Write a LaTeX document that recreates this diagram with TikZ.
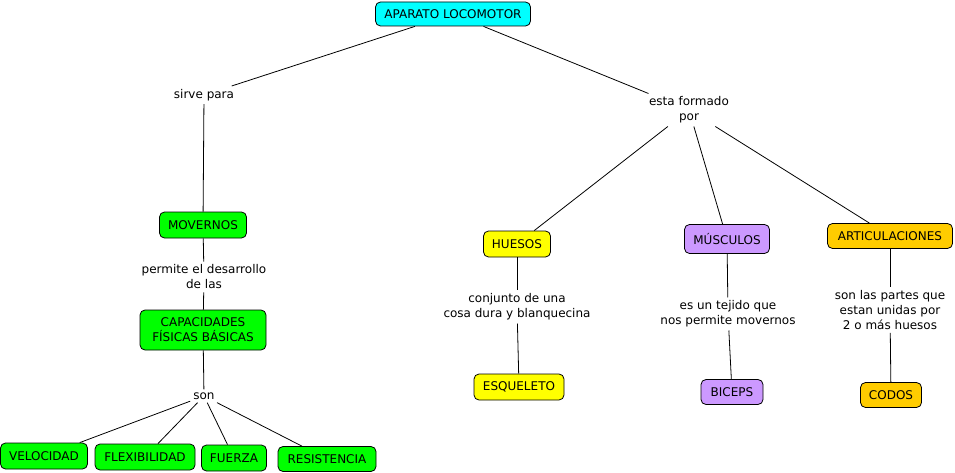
\documentclass[tikz,border=0pt]{standalone}
\usepackage{fontspec}
\setmainfont{DejaVu Sans}
\begin{document}
\begin{tikzpicture}[x=1pt,y=-1pt,
  every node/.style={font=\fontsize{12}{15}\selectfont, align=center},
  concept/.style={draw=black, line width=0.8pt, rounded corners=5pt, inner sep=0pt, minimum height=26pt},
  lab/.style={inner sep=3pt, fill=white},
  link/.style={draw=black, line width=0.8pt}]
\useasboundingbox (0,0) rectangle (955,473);
\fill[white] (0,0) rectangle (955,473);
\definecolor{cmcyan}{HTML}{00FFFF}
\definecolor{cmgreen}{HTML}{00FF00}
\definecolor{cmyellow}{HTML}{FFFF00}
\definecolor{cmpurple}{HTML}{CC99FF}
\definecolor{cmgold}{HTML}{FFCC00}
% concepts
\node[concept, fill=cmcyan, minimum width=155pt, minimum height=24pt] (apl) at (453,14) {APARATO LOCOMOTOR};
\node[lab] (sirve) at (204,95) {sirve para};
\node[lab] (esta) at (689,110) {esta formado\\por};
\node[concept, fill=cmgreen, minimum width=87pt] (mov) at (203,225) {MOVERNOS};
\node[lab] (perm) at (204,277) {permite el desarrollo\\de las};
\node[concept, fill=cmgreen, minimum width=126pt, minimum height=40pt] (cap) at (203,330) {CAPACIDADES\\FÍSICAS BÁSICAS};
\node[lab] (son) at (204,396) {son};
\node[concept, fill=cmgreen, minimum width=87pt] (vel) at (44,456) {VELOCIDAD};
\node[concept, fill=cmgreen, minimum width=100pt] (flex) at (145,457) {FLEXIBILIDAD};
\node[concept, fill=cmgreen, minimum width=65pt] (fue) at (234,458) {FUERZA};
\node[concept, fill=cmgreen, minimum width=98pt, minimum height=25pt] (res) at (327,459) {RESISTENCIA};
\node[concept, fill=cmyellow, minimum width=67pt] (hue) at (517,244) {HUESOS};
\node[lab] (conj) at (517,307) {conjunto de una\\cosa dura y blanquecina};
\node[concept, fill=cmyellow, minimum width=90pt] (esq) at (519,387) {ESQUELETO};
\node[concept, fill=cmpurple, minimum width=85pt, minimum height=29pt] (mus) at (727,239) {MÚSCULOS};
\node[lab] (tej) at (728,314) {es un tejido que\\nos permite movernos};
\node[concept, fill=cmpurple, minimum width=62pt, minimum height=25pt] (bic) at (732,392) {BICEPS};
\node[concept, fill=cmgold, minimum width=125pt, minimum height=25pt] (art) at (890,236) {ARTICULACIONES};
\node[lab] (part) at (890,310) {son las partes que\\estan unidas por\\2 o más huesos};
\node[concept, fill=cmgold, minimum width=61pt, minimum height=25pt] (cod) at (891,395) {CODOS};
% links
\draw[link] (apl) -- (sirve);
\draw[link] (apl) -- (esta);
\draw[link] (sirve) -- (mov);
\draw[link] (mov) -- (perm);
\draw[link] (perm) -- (cap);
\draw[link] (cap) -- (son);
\draw[link] (son) -- (vel);
\draw[link] (son) -- (flex);
\draw[link] (son) -- (fue);
\draw[link] (son) -- (res);
\draw[link] (esta) -- (hue);
\draw[link] (esta) -- (mus);
\draw[link] (esta) -- (art);
\draw[link] (hue) -- (conj);
\draw[link] (conj) -- (esq);
\draw[link] (mus) -- (tej);
\draw[link] (tej) -- (bic);
\draw[link] (art) -- (part);
\draw[link] (part) -- (cod);
\end{tikzpicture}
\end{document}
